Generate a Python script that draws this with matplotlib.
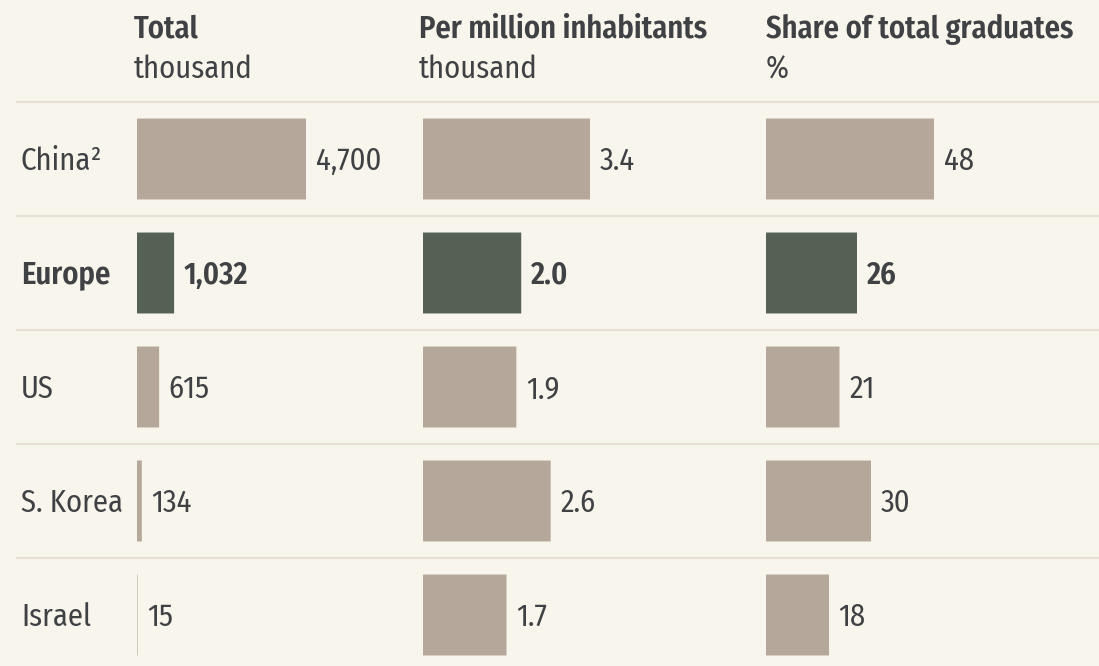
import numpy as np
import matplotlib
matplotlib.use("Agg")
from matplotlib import pyplot as plt
from matplotlib import font_manager as fm

# data
countries = ["China²", "Europe", "US", "S. Korea", "Israel"]
total = [4700, 1032, 615, 134, 15]
per_million = [3.4, 2.0, 1.9, 2.6, 1.7]
share = [48, 26, 21, 30, 18]
total_lbl = ["4,700", "1,032", "615", "134", "15"]
per_million_lbl = ["3.4", "2.0", "1.9", "2.6", "1.7"]
share_lbl = ["48", "26", "21", "30", "18"]
headers = [("Total", "thousand"), ("Per million inhabitants", "thousand"),
           ("Share of total graduates", "%")]
highlight = "Europe"

BG = "#f8f5ec"
TAN = "#b5a89a"
GREEN = "#546154"
TXT = "#3f4144"
GRID = "#e6e1d4"

# pick a condensed sans, falling back to DejaVu Sans
avail = {f.name for f in fm.fontManager.ttflist}
fam = None
for f in ["Fira Sans Condensed", "IBM Plex Sans Condensed", "Asap Condensed"]:
    if f in avail:
        fam = f
        break
if fam is None:
    plt.rcParams['font.family'] = ['DejaVu Sans']
    plt.rcParams['font.stretch'] = 'condensed'
    REG, BOLD = "normal", "bold"
else:
    plt.rcParams['font.family'] = [fam, 'DejaVu Sans']
    REG, BOLD = "normal", "semibold"

W, H = 1099, 666
fig = plt.figure(figsize=(W / 100, H / 100), dpi=100, facecolor=BG)

# row geometry (pixels)
row_top, row_h = 102, 114
ylo = -0.5 - row_top / row_h
yhi = -0.5 + (H - row_top) / row_h
fs = 22

# background axes for labels and separators (pixel x, row y)
ax0 = fig.add_axes([0, 0, 1, 1])
ax0.set_xlim(0, W)
ax0.set_ylim(yhi, ylo)
ax0.axis("off")
for i in range(len(countries)):
    ax0.plot([16, W], [i - 0.5, i - 0.5], color=GRID, lw=1.6, solid_capstyle="butt")
    bold = countries[i] == highlight
    ax0.text(21, i + 0.02, countries[i], fontsize=fs, color=TXT, va="center",
             ha="left", fontweight=BOLD if bold else REG)

# columns: (values, labels, bar start px, px per unit)
cols = [
    (total, total_lbl, 137, 169 / 4700),
    (per_million, per_million_lbl, 423, 167 / 3.4),
    (share, share_lbl, 766, 168 / 48),
]
hdr_x = [134, 419, 766]

for (vals, lbls, x0, scale), (h1, h2), hx in zip(cols, headers, hdr_x):
    wpx = 260
    ax = fig.add_axes([x0 / W, 0, wpx / W, 1])
    ax.set_xlim(0, wpx / scale)
    ax.set_ylim(yhi, ylo)
    ax.axis("off")
    y = np.arange(len(vals))
    colors = [GREEN if c == highlight else TAN for c in countries]
    bars = ax.barh(y, vals, height=0.71, color=colors, linewidth=0)
    for b in bars:
        b.set_snap(False)
    for yi, v, l, c in zip(y, vals, lbls, countries):
        bold = c == highlight
        ax.annotate(l, (v, yi + 0.02), xytext=(7, 0), textcoords="offset points",
                    fontsize=fs, color=TXT, va="center", ha="left",
                    fontweight=BOLD if bold else REG)
    fig.text(hx / W, 1 - 38 / H, h1, fontsize=fs, fontweight=BOLD, color=TXT,
             ha="left", va="baseline")
    fig.text(hx / W, 1 - 78 / H, h2, fontsize=fs, fontweight=REG, color=TXT,
             ha="left", va="baseline")

fig.savefig("out.png", dpi=100, facecolor=BG)
